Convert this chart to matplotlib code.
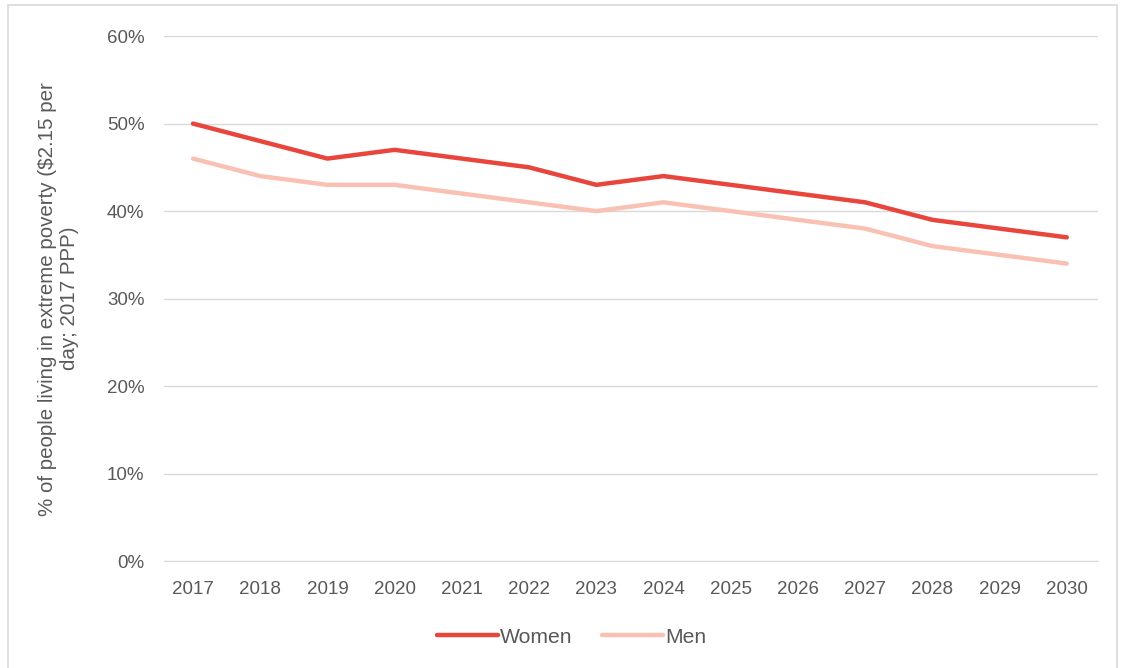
import matplotlib
matplotlib.use("Agg")
import matplotlib.pyplot as plt
from matplotlib.patches import Rectangle
from matplotlib.ticker import PercentFormatter

plt.rcParams['font.family'] = ['Liberation Sans', 'DejaVu Sans']

years = [str(y) for y in range(2017, 2031)]
women = [50, 48, 46, 47, 46, 45, 43, 44, 43, 42, 41, 39, 38, 37]
men = [46, 44, 43, 43, 42, 41, 40, 41, 40, 39, 38, 36, 35, 34]

text_col = '#595959'
grid_col = '#d9d9d9'

fig = plt.figure(figsize=(11.25, 6.68), dpi=100)
ax = fig.add_axes([0.1458, 0.160, 0.830, 0.786])

x = list(range(len(years)))
ax.plot(x, women, color='#E8453C', lw=3.2, solid_capstyle='round', solid_joinstyle='round', label='Women')
ax.plot(x, men, color='#F8C1B3', lw=3.2, solid_capstyle='round', solid_joinstyle='round', label='Men')

ax.set_xlim(-0.431, len(years) - 1 + 0.461)
ax.set_ylim(0, 60)
ax.set_yticks(range(0, 61, 10))
ax.yaxis.set_major_formatter(PercentFormatter(decimals=0))
ax.set_xticks(x)
ax.set_xticklabels(years)

ax.grid(axis='y', color=grid_col, lw=1)
ax.set_axisbelow(True)
for s in ['top', 'right', 'left']:
    ax.spines[s].set_visible(False)
ax.spines['bottom'].set_color(grid_col)
ax.tick_params(axis='both', length=0, labelsize=13.5, colors=text_col)
ax.tick_params(axis='x', pad=14)
ax.tick_params(axis='y', pad=14)

ax.set_ylabel('% of people living in extreme poverty (\\$2.15 per\nday; 2017 PPP)',
              fontsize=14.8, color=text_col, labelpad=20)

leg = fig.legend(loc='center', bbox_to_anchor=(0.508, 0.046), ncol=2, frameon=False,
                 fontsize=15.2, handlelength=2.9, handletextpad=0.1, columnspacing=1.4)
for t in leg.get_texts():
    t.set_color(text_col)

fig.patches.append(Rectangle((0.007, -0.01), 0.986, 1.002, transform=fig.transFigure,
                             fill=False, edgecolor='#d9d9d9', lw=1.2))

fig.savefig('out.png', dpi=100, facecolor='white')
